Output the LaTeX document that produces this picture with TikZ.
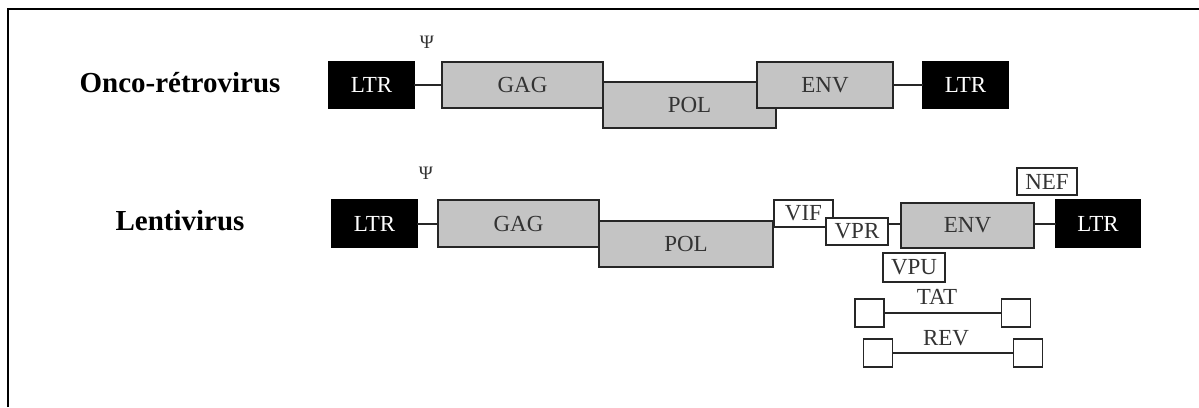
\documentclass[tikz,border=0pt]{standalone}
\usepackage{fontspec}
\setmainfont{Liberation Serif}
\definecolor{genegrey}{HTML}{C4C4C4}
\definecolor{labelgrey}{HTML}{333333}
\newcommand{\genefont}{\fontsize{23}{26}\selectfont}
\newcommand{\namefont}{\fontsize{29}{32}\selectfont\bfseries}
\newcommand{\psifont}{\fontsize{19}{22}\selectfont}
\tikzset{
  gene/.style={draw=black!85, line width=1.8pt, fill=genegrey, text=labelgrey,
    inner sep=0pt, outer sep=0pt, font=\genefont},
  ltrbox/.style={draw=black, line width=1.6pt, fill=black, text=white,
    inner sep=0pt, outer sep=0pt, font=\genefont,
    minimum width=85pt, minimum height=47pt},
  accessory/.style={draw=black!85, line width=1.7pt, fill=white, text=labelgrey,
    inner sep=0pt, outer sep=0pt, font=\genefont,
    minimum width=61pt, minimum height=27pt},
  exon/.style={draw=black!85, line width=1.7pt, fill=white,
    inner sep=0pt, outer sep=0pt, minimum width=29pt, minimum height=28pt},
  link/.style={draw=black!85, line width=2pt},
  vname/.style={font=\namefont, text=black, inner sep=0pt},
  psilabel/.style={font=\psifont, text=labelgrey, inner sep=0pt},
  splice/.style={font=\genefont, text=labelgrey, inner sep=0pt}
}
\begin{document}
\begin{tikzpicture}[x=1pt, y=-1pt]
\useasboundingbox (0,0) rectangle (1199,407);
% frame
\draw[line width=2.4pt] (8,407) -- (8,9) -- (1199,9);

% ---------- onco-retrovirus genome ----------
\node[vname] (oname) at (180,83) {Onco-rétrovirus};
\node[gene, minimum width=173pt, minimum height=46pt] (opol) at (689.5,105) {POL};
\node[gene, minimum width=161pt, minimum height=46pt] (ogag) at (522.5,85) {GAG};
\node[gene, minimum width=136pt, minimum height=46pt] (oenv) at (825,85) {ENV};
\node[ltrbox] (oltrA) at (371.5,85) {LTR};
\node[ltrbox] (oltrB) at (965.5,85) {LTR};
\node[psilabel] (opsi) at (427,42) {Ψ};
\draw[link] (oltrA.east) -- (ogag.west);
\draw[link] (oenv.east) -- (oltrB.west);

% ---------- lentivirus genome ----------
\node[vname] (lname) at (180,221) {Lentivirus};
\node[gene, minimum width=174pt, minimum height=46pt] (lpol) at (686,244) {POL};
\node[gene, minimum width=161pt, minimum height=47pt] (lgag) at (518.5,223.5) {GAG};
\node[gene, minimum width=133pt, minimum height=45pt] (lenv) at (967.5,225.5) {ENV};
\node[ltrbox] (lltrA) at (374.5,223.5) {LTR};
\node[ltrbox, minimum width=84pt] (lltrB) at (1098,223.5) {LTR};
\node[psilabel] (lpsi) at (426,173) {Ψ};
\node[accessory, minimum width=59pt] (vif) at (803.5,213.5) {VIF};
\node[accessory, minimum width=62pt] (vpr) at (857,231.5) {VPR};
\node[accessory, minimum width=60pt] (nef) at (1047,181.5) {NEF};
\node[accessory, minimum width=62pt, minimum height=29pt] (vpu) at (914,267.5) {VPU};
\draw[link] (lltrA.east) -- (lgag.west);
\draw[link] (vpr.east |- lgag.west) -- (lenv.west |- lgag.west);
\draw[link] (lenv.east |- lltrB.west) -- (lltrB.west);

% spliced regulatory genes
\node[exon] (tatA) at (869.5,313) {};
\node[exon] (tatB) at (1016,313) {};
\draw[link] (tatA.east) -- (tatB.west);
\node[splice] (tatname) at (937,297) {TAT};
\node[exon] (revA) at (878,353) {};
\node[exon] (revB) at (1028,353) {};
\draw[link] (revA.east) -- (revB.west);
\node[splice] (revname) at (946,338) {REV};
\end{tikzpicture}
\end{document}
